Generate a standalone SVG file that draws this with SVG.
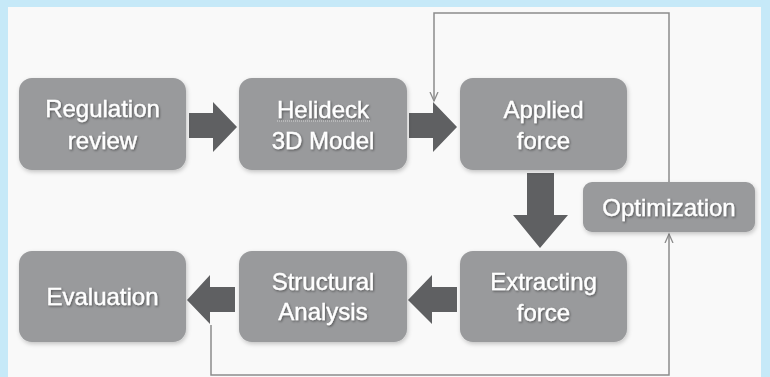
<svg xmlns="http://www.w3.org/2000/svg" width="770" height="377" viewBox="0 0 770 377">
<defs>
<style>
.box{fill:#999a9c;}
.txt{font-family:"Liberation Sans",Arial,sans-serif;font-size:24px;fill:#ffffff;stroke:#ffffff;stroke-width:0.35;text-anchor:middle;}
.big{fill:#5f6062;}
.fb{fill:none;stroke:#8c8c8c;stroke-width:1.5;}
</style>
<filter id="sh" x="-10%" y="-10%" width="125%" height="130%">
<feDropShadow dx="1" dy="2" stdDeviation="2" flood-color="#000" flood-opacity="0.22"/>
</filter>
<filter id="ts" x="-10%" y="-10%" width="120%" height="130%">
<feDropShadow dx="1" dy="1.2" stdDeviation="0.9" flood-color="#000" flood-opacity="0.45"/>
</filter>
<marker id="ah" markerWidth="12" markerHeight="12" refX="9" refY="5" orient="auto" markerUnits="userSpaceOnUse">
<path d="M0,1 L9,5 L0,9" fill="none" stroke="#8c8c8c" stroke-width="1.3"/>
</marker>
</defs>
<rect x="0" y="0" width="770" height="377" fill="#c6e9f8"/>
<rect x="8" y="7" width="753" height="370" fill="#f9f9f9"/>

<g id="connectors">
<path class="big" d="M189,113 H213 V102 L237,127 L213,152 V138 H189 Z"/>
<path class="big" d="M409,113 H433 V102 L457,127 L433,152 V138 H409 Z"/>
<path class="big" d="M527,173 H554 V215 H568 L540,248 L513,215 H527 Z"/>
<path class="big" d="M457,287 H432 V275 L408,300 L432,324 V312 H457 Z"/>
<path class="big" d="M235,287 H210 V275 L187,300 L210,324 V312 H235 Z"/>
<path class="fb" d="M211,325 V375 H669 V234" marker-end="url(#ah)"/>
<path class="fb" d="M669,182 V13 H434 V101" marker-end="url(#ah)"/>
</g>

<g id="regulation" filter="url(#sh)">
<rect class="box" x="19" y="78" width="167" height="92" rx="13"/>
<text class="txt" filter="url(#ts)"><tspan x="102.5" y="117">Regulation</tspan><tspan x="102.5" y="149">review</tspan></text>
</g>
<g id="helideck" filter="url(#sh)">
<rect class="box" x="239" y="78" width="168" height="92" rx="13"/>
<text class="txt" filter="url(#ts)"><tspan x="323" y="118">Helideck</tspan><tspan x="323" y="149">3D Model</tspan></text>
<line x1="277" y1="121" x2="370" y2="121" stroke="#d8d8d8" stroke-width="1" stroke-dasharray="1,1"/>
</g>
<g id="applied" filter="url(#sh)">
<rect class="box" x="460" y="78" width="167" height="92" rx="13"/>
<text class="txt" filter="url(#ts)"><tspan x="543.5" y="118">Applied</tspan><tspan x="543.5" y="149">force</tspan></text>
</g>
<g id="optimization" filter="url(#sh)">
<rect class="box" x="583" y="182" width="172" height="50" rx="9"/>
<text class="txt" filter="url(#ts)" x="669" y="216">Optimization</text>
</g>
<g id="evaluation" filter="url(#sh)">
<rect class="box" x="19" y="251" width="167" height="91" rx="13"/>
<text class="txt" filter="url(#ts)" x="102.5" y="305">Evaluation</text>
</g>
<g id="structural" filter="url(#sh)">
<rect class="box" x="239" y="251" width="168" height="91" rx="13"/>
<text class="txt" filter="url(#ts)"><tspan x="323" y="290">Structural</tspan><tspan x="323" y="320">Analysis</tspan></text>
</g>
<g id="extracting" filter="url(#sh)">
<rect class="box" x="460" y="251" width="167" height="91" rx="13"/>
<text class="txt" filter="url(#ts)"><tspan x="543.5" y="290">Extracting</tspan><tspan x="543.5" y="321">force</tspan></text>
</g>
</svg>
